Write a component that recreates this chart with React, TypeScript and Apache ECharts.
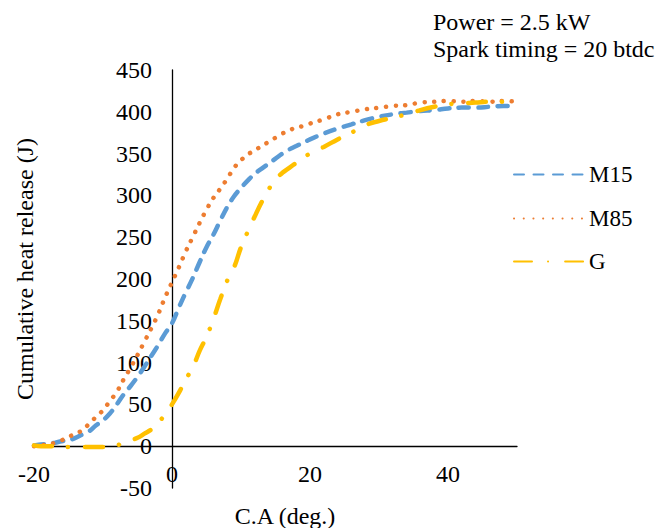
import React, { useEffect, useRef } from "react";
import * as echarts from "echarts";

const ca = [-20, -19, -18, -17, -16, -15, -14, -13, -12, -11, -10, -9, -8, -7, -6, -5, -4, -3, -2, -1, 0, 1, 2, 3, 4, 5, 6, 7, 8, 9, 10, 11, 12, 13, 14, 15, 16, 17, 18, 19, 20, 22, 24, 26, 28, 30, 32, 34, 36, 38, 40, 42, 44, 46, 48, 50];
const m15 = [1, 2, 3, 4, 6, 7, 10, 14, 18, 25, 31, 39, 50, 62, 72, 83, 95, 108, 121, 135, 147, 166, 184, 201, 220, 238, 253, 270, 286, 299, 309, 318, 326, 332, 338, 344, 350, 355, 359, 363, 367, 374, 380, 385, 390, 394, 397, 399, 401, 402, 404, 405, 405, 406, 407, 407];
const m85 = [0, 1, 2, 4, 7, 11, 15, 19, 27, 35, 43, 54, 65, 80, 94, 109, 125, 141, 158, 178, 196, 214, 233, 250, 267, 283, 297, 308, 320, 333, 342, 349, 354, 359, 364, 369, 374, 378, 381, 383, 386, 391, 397, 400, 403, 405, 407, 408, 411, 412, 413, 412, 413, 412, 413, 412];
const gData = [1, 0, 0, 0, -1, -1, -1, -1, -1, -1, -1, 0, 1, 4, 7, 10, 15, 20, 28, 38, 50, 64, 80, 94, 114, 131, 152, 176, 198, 214, 238, 257, 275, 292, 307, 319, 327, 333, 339, 345, 350, 358, 367, 375, 384, 389, 393, 397, 402, 406, 409, 410, 411, 412, 412, 413];

const seriesNames = ["M15", "M85", "G"];
const seriesColors = ["#5B9BD5", "#ED7D31", "#FFC000"];
const xTitle = "C.A (deg.)";
const yTitle = "Cumulative heat release (J)";
const noteLines = ["Power = 2.5 kW", "Spark timing = 20 btdc"];

const FONT = "'Liberation Serif', 'Times New Roman', serif";
const FS = 24;

const X_MIN = -20, X_MAX = 50, Y_MIN = -50, Y_MAX = 450;
const G_LEFT = 34, G_RIGHT = 139, G_TOP = 70, G_BOTTOM = 40;
const W = 656, H = 528;

export default function App() {
  const ref = useRef<HTMLDivElement>(null);
  useEffect(() => {
    if (!ref.current) return;
    const chart = echarts.init(ref.current, undefined, { renderer: "svg" });
    const pair = (ys: number[]) => ca.map((x, i) => [x, ys[i]]);
    const dashes: any[] = [[10, 9.5], [0.1, 9.6], [18, 16, 0.1, 17]];
    const datas = [m15, m85, gData];
    const legendCenters = [175, 219, 262];
    const plotW = W - G_LEFT - G_RIGHT;
    const plotH = H - G_TOP - G_BOTTOM;
    const yAxisOffset = -((0 - X_MIN) / (X_MAX - X_MIN)) * plotW;
    const xAxisOffset = -((0 - Y_MIN) / (Y_MAX - Y_MIN)) * plotH;
    const option: any = {
      animation: false,
      textStyle: { fontFamily: FONT },
      grid: { left: G_LEFT, right: G_RIGHT, top: G_TOP, bottom: G_BOTTOM, containLabel: false },
      xAxis: {
        type: "value",
        min: X_MIN,
        max: X_MAX,
        interval: 20,
        offset: xAxisOffset,
        axisLine: { onZero: false, lineStyle: { color: "#000", width: 1.3 } },
        axisTick: { show: false },
        splitLine: { show: false },
        axisLabel: { color: "#000", fontSize: FS, fontFamily: FONT, margin: 16, showMaxLabel: false },
      },
      yAxis: {
        type: "value",
        min: Y_MIN,
        max: Y_MAX,
        interval: 50,
        offset: yAxisOffset,
        axisLine: { show: true, onZero: false, lineStyle: { color: "#000", width: 1.3 } },
        axisTick: { show: false },
        splitLine: { show: false },
        axisLabel: { color: "#000", fontSize: FS, fontFamily: FONT, margin: 20 },
      },
      legend: seriesNames.map((n, i) => ({
        data: [n],
        left: 513,
        top: legendCenters[i] - 12,
        padding: 0,
        itemWidth: 70,
        itemHeight: 24,
        itemStyle: { color: "transparent", borderColor: "transparent", borderWidth: 0, opacity: 0 },
        textStyle: { fontSize: 23, fontFamily: FONT, color: "#000" },
      })),
      series: seriesNames.map((n, i) => ({
        name: n,
        type: "line",
        data: pair(datas[i]),
        showSymbol: false,
        symbol: "none",
        smooth: 0.4,
        color: seriesColors[i],
        lineStyle: { color: seriesColors[i], width: 4.5, type: dashes[i], cap: "round" },
      })),
      graphic: [
        {
          type: "text",
          x: 25,
          y: 269,
          rotation: Math.PI / 2,
          style: { text: yTitle, fontSize: FS, fontFamily: FONT, fill: "#000", align: "center", verticalAlign: "middle" },
        },
        {
          type: "text",
          x: 285,
          y: 516,
          style: { text: xTitle, fontSize: FS, fontFamily: FONT, fill: "#000", align: "center", verticalAlign: "middle" },
        },
        ...noteLines.map((t, i) => ({
          type: "text",
          x: 433,
          y: 22 + i * 27,
          style: { text: t, fontSize: FS, fontFamily: FONT, fill: "#000", align: "left", verticalAlign: "middle" },
        })),
      ],
    };
    chart.setOption(option);
    return () => chart.dispose();
  }, []);
  return <div ref={ref} style={{ position: "absolute", left: 0, top: 0, width: W, height: H }} />;
}
